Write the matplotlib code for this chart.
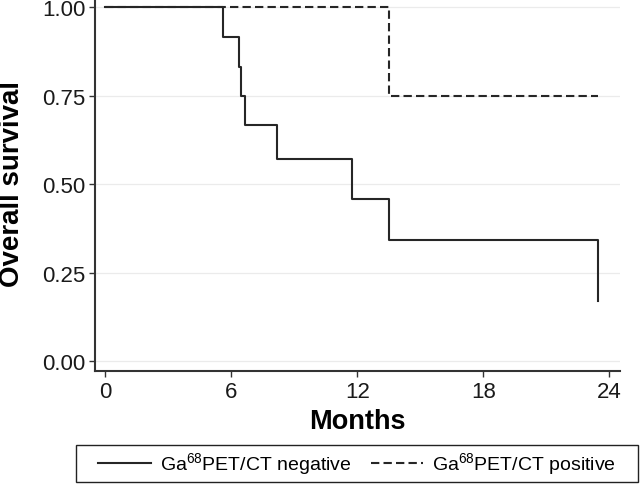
import matplotlib
matplotlib.use('Agg')
import matplotlib.pyplot as plt
from matplotlib.patches import Rectangle

# Kaplan-Meier steps (months, survival)
neg_times = [0, 5.6, 6.38, 6.45, 6.65, 8.16, 11.73, 13.51, 23.45]
neg_surv = [1.0, 0.917, 0.833, 0.75, 0.667, 0.571, 0.457, 0.343, 0.171]

pos_times = [0, 13.52, 23.45]
pos_surv = [1.0, 0.75, 0.75]

x_ticks = [0, 6, 12, 18, 24]
y_ticks = [0.00, 0.25, 0.50, 0.75, 1.00]
y_tick_labels = ['0.00', '0.25', '0.50', '0.75', '1.00']

labels = [r'Ga$^{\mathregular{68}}$PET/CT negative',
          r'Ga$^{\mathregular{68}}$PET/CT positive']

plt.rcParams['font.family'] = ['Liberation Sans', 'DejaVu Sans']
plt.rcParams['mathtext.fontset'] = 'custom'
plt.rcParams['mathtext.rm'] = 'Liberation Sans'

W, H = 640, 485
fig = plt.figure(figsize=(W / 100, H / 100), dpi=100)
# axes box in pixels: left 95, right 620, bottom 372 (from top), top at image edge
ax = fig.add_axes([95 / W, (H - 372.3) / H, (620 - 95) / W, 372.3 / H])

line_col = '#262626'
ax.step(neg_times, neg_surv, where='post', color=line_col, lw=1.5,
        label=labels[0])
ax.step(pos_times, pos_surv, where='post', color=line_col, lw=1.5,
        dashes=(4, 2), label=labels[1])

ax.set_xlim(-0.49, 24.51)
ax.set_ylim(-0.029, 1.024)
ax.set_xticks(x_ticks)
ax.set_yticks(y_ticks)
ax.set_yticklabels(y_tick_labels)

ax.yaxis.grid(True, color='#EBEBEB', lw=0.9)
ax.xaxis.grid(False)
ax.set_axisbelow(True)

for side in ['top', 'right']:
    ax.spines[side].set_visible(False)
for side in ['left', 'bottom']:
    ax.spines[side].set_color('#333333')
    ax.spines[side].set_linewidth(1.5)

ax.tick_params(axis='both', direction='out', length=4, width=1.0,
               color='#333333', labelsize=16, labelcolor='#1a1a1a', pad=3)

fig.text(12 / W, (H - 184) / H, 'Overall survival', rotation=90,
         fontsize=20, fontweight='bold', ha='center', va='center')
fig.text(357 / W, (H - 422) / H, 'Months', fontsize=19.5,
         fontweight='bold', ha='center', va='center')

# legend items without frame, frame drawn as a plain box like ggplot's
leg = fig.legend(loc='center', bbox_to_anchor=(357 / W, (H - 464.5) / H),
                 ncol=2, fontsize=14, frameon=False,
                 handlelength=2.7, handletextpad=0.46,
                 columnspacing=1.0, borderpad=0, borderaxespad=0)
fig.add_artist(Rectangle((76 / W, (H - 483) / H), (638 - 76) / W, 37 / H,
                         transform=fig.transFigure, fill=False,
                         edgecolor='#222222', lw=1.0))

fig.savefig('out.png', dpi=100)
